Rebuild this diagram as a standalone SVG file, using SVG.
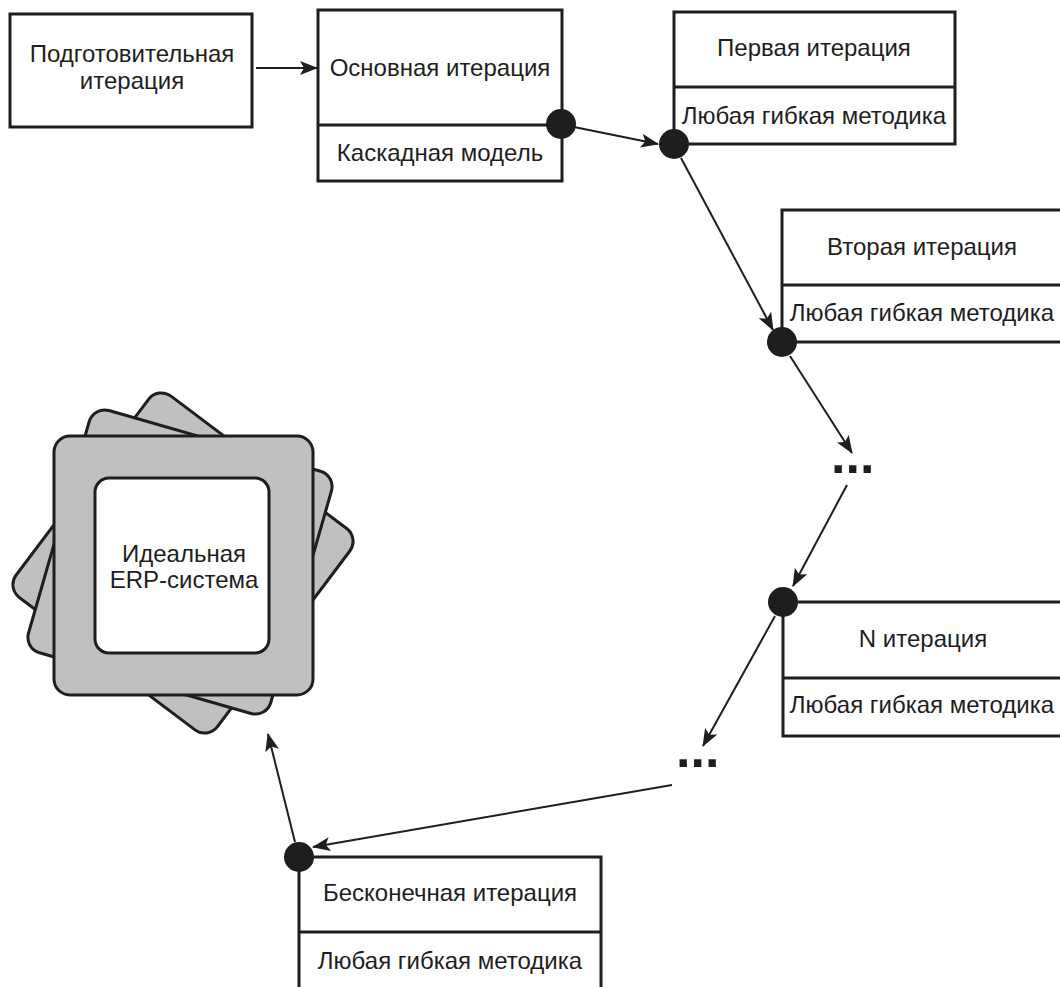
<svg xmlns="http://www.w3.org/2000/svg" width="1060" height="987" viewBox="0 0 1060 987">
<style>
.box{fill:#fff;stroke:#1e1e1e;stroke-width:3}
.div{stroke:#1e1e1e;stroke-width:3}
.t{font-family:"Liberation Sans",Arial,sans-serif;font-size:24px;fill:#1e1e1e;text-anchor:middle}
.dot{fill:#1e1e1e}
.con{stroke:#1e1e1e;stroke-width:2;fill:none;marker-end:url(#ah)}
.ell{font-family:"Liberation Sans",Arial,sans-serif;font-weight:bold;font-size:52px;fill:#1e1e1e}
.sq{fill:#c0c0c0;stroke:#1e1e1e;stroke-width:3}
</style>
<defs>
<marker id="ah" markerUnits="userSpaceOnUse" markerWidth="18" markerHeight="14" refX="17" refY="7" orient="auto">
<path d="M0,0 L18,7 L0,14 L4,7 Z" fill="#1e1e1e"/>
</marker>
</defs>
<g id="erp">
<rect class="sq" x="57" y="437" width="252" height="252" rx="16" transform="rotate(37 183 563)"/>
<rect class="sq" x="54" y="436" width="252" height="252" rx="16" transform="rotate(16 180 562)"/>
<rect class="sq" x="54" y="436" width="259" height="259" rx="16"/>
<rect x="95" y="478" width="174" height="175" rx="14" fill="#fff" stroke="#1e1e1e" stroke-width="3"/>
<text class="t" x="184" y="562">Идеальная</text>
<text class="t" x="184" y="588">ERP-система</text>
</g>
<g id="prep">
<rect class="box" x="10" y="14" width="242" height="113"/>
<text class="t" x="132" y="62">Подготовительная</text>
<text class="t" x="132" y="89">итерация</text>
</g>
<g id="main">
<rect class="box" x="318" y="10" width="244" height="171"/>
<line class="div" x1="318" y1="125" x2="562" y2="125"/>
<text class="t" x="440" y="76">Основная итерация</text>
<text class="t" x="440" y="161">Каскадная модель</text>
</g>
<g id="first">
<rect class="box" x="674" y="12" width="281" height="132"/>
<line class="div" x1="674" y1="87" x2="955" y2="87"/>
<text class="t" x="814" y="56">Первая итерация</text>
<text class="t" x="814" y="124">Любая гибкая методика</text>
</g>
<g id="second">
<rect class="box" x="782" y="210" width="290" height="132"/>
<line class="div" x1="782" y1="285" x2="1072" y2="285"/>
<text class="t" x="922" y="255">Вторая итерация</text>
<text class="t" x="922" y="321">Любая гибкая методика</text>
</g>
<g id="nth">
<rect class="box" x="783" y="602" width="290" height="134"/>
<line class="div" x1="783" y1="678" x2="1073" y2="678"/>
<text class="t" x="923" y="647">N итерация</text>
<text class="t" x="922" y="713">Любая гибкая методика</text>
</g>
<g id="infinite">
<rect class="box" x="299" y="857" width="302" height="150"/>
<line class="div" x1="299" y1="932" x2="601" y2="932"/>
<text class="t" x="450" y="901">Бесконечная итерация</text>
<text class="t" x="450" y="969">Любая гибкая методика</text>
</g>
<g id="ellipsis1"><text class="ell" x="831" y="473">...</text></g>
<g id="ellipsis2"><text class="ell" x="676" y="767">...</text></g>
<g id="connectors">
<line class="con" x1="256" y1="68" x2="317" y2="68"/>
<line class="con" x1="574" y1="127" x2="658" y2="144"/>
<line class="con" x1="681" y1="158" x2="773" y2="330"/>
<line class="con" x1="790" y1="356" x2="852" y2="453"/>
<line class="con" x1="847" y1="485" x2="793" y2="586"/>
<line class="con" x1="775" y1="616" x2="703" y2="746"/>
<line class="con" x1="672" y1="785" x2="313" y2="847"/>
<line class="con" x1="295" y1="842" x2="268" y2="734"/>
</g>
<g id="dots">
<circle class="dot" cx="561" cy="124" r="15"/>
<circle class="dot" cx="674" cy="144" r="15"/>
<circle class="dot" cx="782" cy="342" r="15"/>
<circle class="dot" cx="783" cy="602" r="15"/>
<circle class="dot" cx="299" cy="857" r="15"/>
</g>
</svg>
